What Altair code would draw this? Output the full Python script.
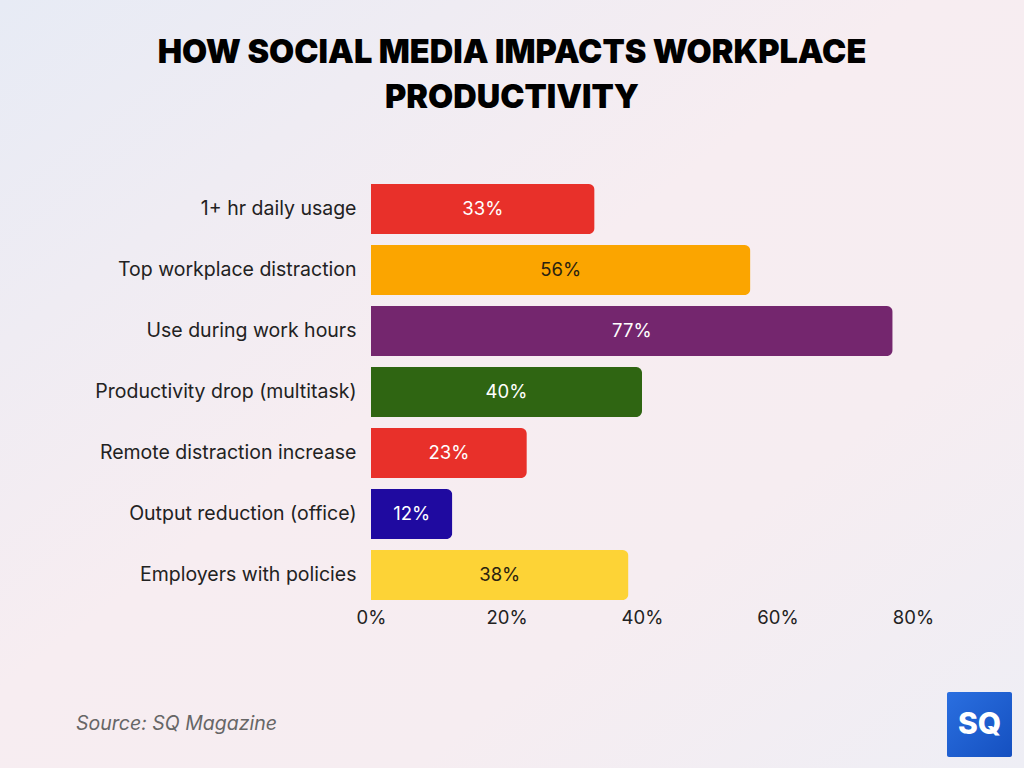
import altair as alt
import pandas as pd

categories = [
    "1+ hr daily usage",
    "Top workplace distraction",
    "Use during work hours",
    "Productivity drop (multitask)",
    "Remote distraction increase",
    "Output reduction (office)",
    "Employers with policies",
]
values = [33, 56, 77, 40, 23, 12, 38]
bar_colors = ["#e8302a", "#fba500", "#74266e", "#2f6512", "#e8302a", "#1f0aa0", "#fdd336"]
label_colors = ["#ffffff", "#2a2210", "#ffffff", "#ffffff", "#ffffff", "#ffffff", "#2a2210"]
x_ticks = [0, 20, 40, 60, 80]

df = pd.DataFrame({"category": categories, "value": values,
                   "label": [f"{v}%" for v in values]})

FONT = "Inter"
W, H = 542, 427
LEFT, TOP = 371, 178.5

bg = alt.Chart(pd.DataFrame({"a": [1]})).mark_rect(
    color=alt.Gradient(gradient="linear", x1=0, y1=0, x2=1, y2=1,
                       stops=[alt.GradientStop(color="#e7ebf5", offset=0),
                              alt.GradientStop(color="#f7edf1", offset=0.45),
                              alt.GradientStop(color="#f6edf1", offset=0.7),
                              alt.GradientStop(color="#eeeef5", offset=1)])
).encode(x=alt.value(-LEFT), x2=alt.value(1024 - LEFT),
         y=alt.value(-TOP), y2=alt.value(768 - TOP))

y_enc = alt.Y("category:N", sort=categories, title=None,
              scale=alt.Scale(paddingInner=0.18, paddingOuter=0.09),
              axis=alt.Axis(domain=False, ticks=False, labelFontSize=19.5,
                            labelColor="#222222", labelFont=FONT, labelPadding=15,
                            labelLimit=400, zindex=2))

bars = alt.Chart(df).mark_bar(cornerRadiusEnd=6).encode(
    x=alt.X("value:Q", title=None,
            scale=alt.Scale(domain=[0, 80], nice=False),
            axis=alt.Axis(values=x_ticks, domain=False, ticks=False, grid=False,
                          labelFlush=False, zindex=2,
                          labelExpr="datum.value + '%'", labelFontSize=18.5,
                          labelColor="#222222", labelFont=FONT, labelPadding=3)),
    y=y_enc,
    color=alt.Color("category:N", scale=alt.Scale(domain=categories, range=bar_colors),
                    legend=None),
)

labels = alt.Chart(df).mark_text(fontSize=18.5, font=FONT, align="center",
                                 baseline="middle").encode(
    x=alt.X("mid:Q"),
    y=alt.Y("category:N", sort=categories),
    text="label:N",
    color=alt.Color("category:N", scale=alt.Scale(domain=categories, range=label_colors),
                    legend=None),
).transform_calculate(mid="datum.value / 2")

title1 = alt.Chart(pd.DataFrame({"t": ["HOW SOCIAL MEDIA IMPACTS WORKPLACE"]})).mark_text(
    fontSize=32.5, font=FONT, fontWeight=900, color="#000000", align="center",
    baseline="middle").encode(x=alt.value(512 - LEFT), y=alt.value(53 - TOP), text="t:N")
title2 = alt.Chart(pd.DataFrame({"t": ["PRODUCTIVITY"]})).mark_text(
    fontSize=32.5, font=FONT, fontWeight=900, color="#000000", align="center",
    baseline="middle").encode(x=alt.value(512 - LEFT), y=alt.value(98 - TOP), text="t:N")

source = alt.Chart(pd.DataFrame({"t": ["Source: SQ Magazine"]})).mark_text(
    fontSize=19.5, font=FONT, fontStyle="italic", color="#666666", align="left",
    baseline="middle").encode(x=alt.value(76 - LEFT), y=alt.value(724 - TOP), text="t:N")

logo_box = alt.Chart(pd.DataFrame({"a": [1]})).mark_rect(
    cornerRadius=2,
    color=alt.Gradient(gradient="linear", x1=0, y1=0, x2=1, y2=1,
                       stops=[alt.GradientStop(color="#2a6fe0", offset=0),
                              alt.GradientStop(color="#1550c0", offset=1)])
).encode(
    x=alt.value(947 - LEFT), x2=alt.value(1012 - LEFT),
    y=alt.value(692 - TOP), y2=alt.value(757 - TOP))
logo_text = alt.Chart(pd.DataFrame({"t": ["SQ"]})).mark_text(
    fontSize=30, font=FONT, fontWeight=800, color="#ffffff", align="center",
    baseline="middle").encode(x=alt.value(979.5 - LEFT), y=alt.value(725 - TOP), text="t:N")

chart = alt.layer(bg, bars, labels, title1, title2, source, logo_box, logo_text).resolve_scale(
    color="independent"
).properties(
    width=W, height=H,
    autosize=alt.AutoSizeParams(type="none"),
    padding={"left": LEFT, "top": TOP, "right": 1024 - LEFT - W, "bottom": 768 - TOP - H},
    background="#f5eff3",
).configure_view(stroke=None)

chart.save("out.html", embed_options={"renderer": "svg", "actions": False})
